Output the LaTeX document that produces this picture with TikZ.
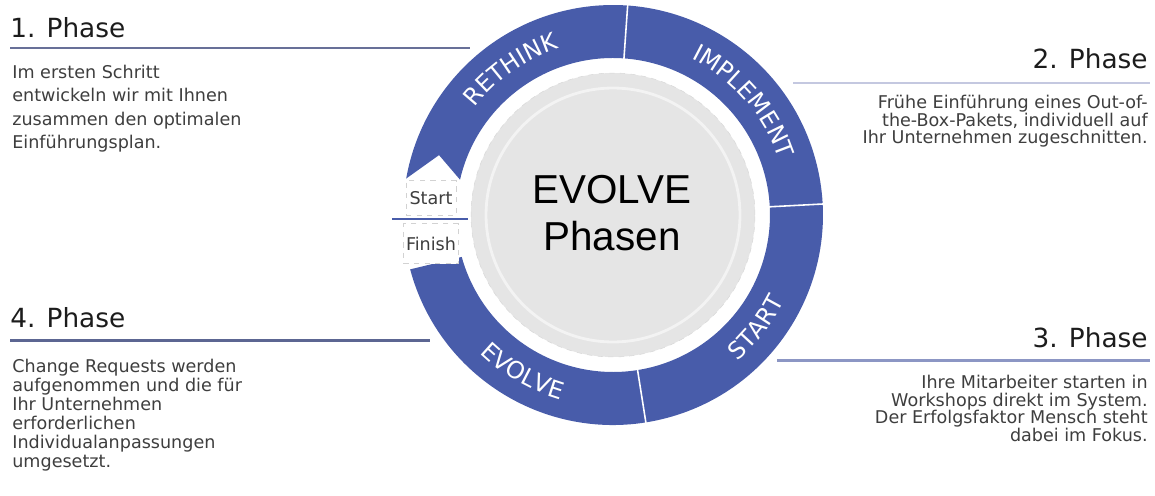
\documentclass[tikz,border=0pt]{standalone}
\usepackage{fontspec}
\setmainfont{DejaVu Sans}
\newfontfamily\hubfont{Liberation Sans}
\usetikzlibrary{decorations.text, positioning}
\setlength{\lineskiplimit}{-10pt}

\definecolor{ringblue}{RGB}{72,92,170}
\definecolor{headgrey}{RGB}{28,28,28}
\definecolor{bodygrey}{RGB}{62,62,62}
\definecolor{discgrey}{RGB}{229,229,229}
\definecolor{rimgrey}{RGB}{243,243,243}

\begin{document}
\begin{tikzpicture}[x=0.02cm, y=0.02cm,
    heading/.style={inner sep=0, text=headgrey, font=\fontsize{15}{18}\selectfont},
    bodytext/.style={inner sep=0, text=bodygrey},
    rule/.style={line width=1.7pt},
    divider/.style={white, line width=0.9pt},
    flagbox/.style={draw=gray!35, dashed, fill=white, inner sep=0, text=bodygrey,
        font=\fontsize{10}{12}\selectfont},
    ringlabel/.style={decorate, decoration={text along path, text align=center,
        text={|\fontsize{13.5}{13.5}\selectfont\color{white}|#1}}}]
  \useasboundingbox (0,0) rectangle (1155,495);

  % ring with the start notch
  \coordinate (hub) at (613,280);
  \begin{scope}[shift={(hub)}]
    \fill[ringblue] (195:210) arc[start angle=195, end angle=530, radius=4.2cm]
      -- (161:184) -- (167:157) arc[start angle=167, end angle=-164.5, radius=3.14cm] -- cycle;
    \draw[divider] (86:156) -- (86:211);
    \draw[divider] (3:156) -- (3:211);
    \draw[divider] (-81:156) -- (-81:211);
    % grey disc
    \fill[discgrey] (0,0) circle[radius=2.84cm];
    \draw[gray!30, dashed, line width=0.3pt] (0,0) circle[radius=2.84cm];
    \draw[rimgrey, line width=1.6pt] (0,0) circle[radius=2.54cm];
    % labels on the ring
    \path[ringlabel=RETHINK] (155:175) arc[start angle=155, end angle=95, radius=3.5cm];
    \path[ringlabel=IMPLEMENT] (82:175) arc[start angle=82, end angle=0, radius=3.5cm];
    \path[ringlabel=START] (-70:192) arc[start angle=-70, end angle=-6, radius=3.84cm];
    \path[ringlabel=EVOLVE] (-155:192) arc[start angle=-155, end angle=-85, radius=3.84cm];
  \end{scope}

  \node[text=black, font=\hubfont\fontsize{23}{23}\selectfont, anchor=base] (evolve) at (612,292) {EVOLVE};
  \node[text=black, font=\hubfont\fontsize{23}{23}\selectfont, anchor=base] (phasen) at (612,245) {Phasen};

  % start / finish
  \node[flagbox, minimum width=1cm, minimum height=0.7cm] (start) at (431,297) {Start};
  \node[flagbox, minimum width=1.1cm, minimum height=0.8cm, below=0.15cm of start] (finish) {Finish};
  \draw[ringblue, line width=1.1pt] (392,276) -- (468,276);

  % phase texts
  \node[heading, anchor=base west] (p1) at (10,458) {1. Phase};
  \draw[rule, color={rgb,255:red,104;green,112;blue,152}] (10,447) -- (470,447);
  \node[bodytext, anchor=north west, align=left, font=\fontsize{10}{13.2}\selectfont] (t1) at (12,430)
    {Im ersten Schritt\\entwickeln wir mit Ihnen\\zusammen den optimalen\\Einführungsplan.};

  \node[heading, anchor=base east] (p2) at (1148,427) {2. Phase};
  \draw[rule, color={rgb,255:red,196;green,200;blue,224}] (793,412) -- (1150,412);
  \node[bodytext, anchor=north east, align=right, font=\fontsize{10}{10}\selectfont] (t2) at (1148,400)
    {Frühe Einführung eines Out-of-\\the-Box-Pakets, individuell auf\\Ihr Unternehmen zugeschnitten.};

  \node[heading, anchor=base east] (p3) at (1148,148) {3. Phase};
  \draw[rule, color={rgb,255:red,140;green,150;blue,196}] (777,135) -- (1150,135);
  \node[bodytext, anchor=north east, align=right, font=\fontsize{10}{10}\selectfont] (t3) at (1148,120)
    {Ihre Mitarbeiter starten in\\Workshops direkt im System.\\Der Erfolgsfaktor Mensch steht\\dabei im Fokus.};

  \node[heading, anchor=base west] (p4) at (10,168) {4. Phase};
  \draw[rule, color={rgb,255:red,92;green,102;blue,146}] (10,155) -- (430,155);
  \node[bodytext, anchor=north west, align=left, font=\fontsize{10}{10.8}\selectfont] (t4) at (12,136)
    {Change Requests werden\\aufgenommen und die für\\Ihr Unternehmen\\erforderlichen\\Individualanpassungen\\umgesetzt.};
\end{tikzpicture}
\end{document}
